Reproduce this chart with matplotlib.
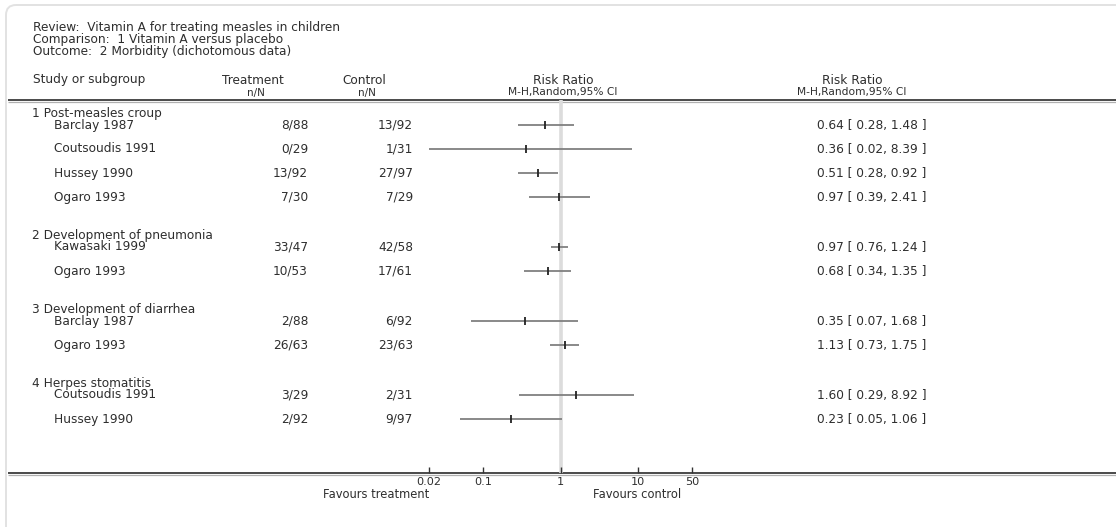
import matplotlib
matplotlib.use("Agg")
import matplotlib.pyplot as plt
from matplotlib.patches import FancyBboxPatch

# ---------------- data ----------------
review_lines = ["Review:  Vitamin A for treating measles in children",
                "Comparison:  1 Vitamin A versus placebo",
                "Outcome:  2 Morbidity (dichotomous data)"]
groups = ["1 Post-measles croup", "2 Development of pneumonia",
          "3 Development of diarrhea", "4 Herpes stomatitis"]
studies = ["Barclay 1987", "Coutsoudis 1991", "Hussey 1990", "Ogaro 1993",
           "Kawasaki 1999", "Ogaro 1993",
           "Barclay 1987", "Ogaro 1993",
           "Coutsoudis 1991", "Hussey 1990"]
group_of = [0, 0, 0, 0, 1, 1, 2, 2, 3, 3]
treatment = ["8/88", "0/29", "13/92", "7/30", "33/47", "10/53", "2/88", "26/63", "3/29", "2/92"]
control = ["13/92", "1/31", "27/97", "7/29", "42/58", "17/61", "6/92", "23/63", "2/31", "9/97"]
rr = [0.64, 0.36, 0.51, 0.97, 0.97, 0.68, 0.35, 1.13, 1.60, 0.23]
ci_lo = [0.28, 0.02, 0.28, 0.39, 0.76, 0.34, 0.07, 0.73, 0.29, 0.05]
ci_hi = [1.48, 8.39, 0.92, 2.41, 1.24, 1.35, 1.68, 1.75, 8.92, 1.06]
xticks = [0.02, 0.1, 1, 10, 50]
xtick_labels = ["0.02", "0.1", "1", "10", "50"]

# ---------------- layout (pixels) ----------------
W, H = 1116, 527
FS = 8.7
TXT = "#2e2e2e"
plt.rcParams['font.family'] = ['DejaVu Sans']

fig = plt.figure(figsize=(W / 100, H / 100), dpi=100)
fig.patch.set_facecolor("white")
ov = fig.add_axes([0, 0, 1, 1])
ov.set_xlim(0, W)
ov.set_ylim(H, 0)
ov.axis("off")

# frame
frame = FancyBboxPatch((6, 5), W + 40, H + 40, boxstyle="round,pad=0,rounding_size=10",
                       facecolor="none", edgecolor="#e2e2e2", linewidth=1.4)
ov.add_patch(frame)

# header text
for i, t in enumerate(review_lines):
    ov.text(33, 27 + i * 12.5, t, fontsize=FS, color=TXT, va="center", ha="left")

ov.text(33, 80, "Study or subgroup", fontsize=FS, color=TXT, va="center", ha="left")
ov.text(253, 80, "Treatment", fontsize=FS, color=TXT, va="center", ha="center")
ov.text(256, 93, "n/N", fontsize=FS - 1.2, color=TXT, va="center", ha="center")
ov.text(364, 80, "Control", fontsize=FS, color=TXT, va="center", ha="center")
ov.text(367, 93, "n/N", fontsize=FS - 1.2, color=TXT, va="center", ha="center")
ov.text(563, 80, "Risk Ratio", fontsize=FS, color=TXT, va="center", ha="center")
ov.text(563, 92, "M-H,Random,95% CI", fontsize=FS - 1.0, color=TXT, va="center", ha="center")
ov.text(852, 80, "Risk Ratio", fontsize=FS, color=TXT, va="center", ha="center")
ov.text(852, 92, "M-H,Random,95% CI", fontsize=FS - 1.0, color=TXT, va="center", ha="center")

# header & bottom rule (double lines)
for yy in (100, 473):
    ov.plot([8, W], [yy, yy], color="#4a4a4a", lw=1.4, solid_capstyle="butt")
    ov.plot([8, W], [yy + 2, yy + 2], color="#b0b0b0", lw=0.9, solid_capstyle="butt")

# row positions
ROW0, PITCH, GGAP = 125, 24, 26
row_y = [ROW0 + PITCH * i + GGAP * g for i, g in enumerate(group_of)]
first_rows = {}
for i, g in enumerate(group_of):
    first_rows.setdefault(g, row_y[i])
for g, label in enumerate(groups):
    ov.text(32, first_rows[g] - 12, label, fontsize=FS, color=TXT, va="center", ha="left")

for i in range(len(studies)):
    y = row_y[i]
    ov.text(54, y, studies[i], fontsize=FS, color=TXT, va="center", ha="left")
    ov.text(308, y, treatment[i], fontsize=FS, color=TXT, va="center", ha="right")
    ov.text(413, y, control[i], fontsize=FS, color=TXT, va="center", ha="right")
    ov.text(872, y, f"{rr[i]:.2f} [ {ci_lo[i]:.2f}, {ci_hi[i]:.2f} ]",
            fontsize=FS, color=TXT, va="center", ha="center")

# ---------------- forest axes ----------------
x0, x1 = 429, 692
ytop, ybot = 100, 473
ax = fig.add_axes([x0 / W, (H - ybot) / H, (x1 - x0) / W, (ybot - ytop) / H])
ax.set_xscale("log")
ax.set_xlim(0.02, 50)
ax.set_ylim(ybot, ytop)
ax.patch.set_alpha(0)
for s in ax.spines.values():
    s.set_visible(False)
ax.axvline(1, color="#dcdcdc", lw=2.6, zorder=0)
ax.hlines(row_y, ci_lo, ci_hi, color="#808080", lw=1.3, zorder=2)
ax.plot(rr, row_y, linestyle="none", marker="|", markersize=5.5, mew=1.3,
        color="#222222", zorder=3)
ax.set_xticks(xticks)
ax.set_xticklabels(xtick_labels)
ax.xaxis.set_minor_locator(matplotlib.ticker.NullLocator())
ax.tick_params(axis="x", direction="in", length=4, width=1, color="#333333",
               labelsize=FS - 0.6, labelcolor=TXT, pad=3)
ax.set_yticks([])

ov.text(429, 495, "Favours treatment", fontsize=FS - 0.4, color=TXT, va="center", ha="right")
ov.text(593, 495, "Favours control", fontsize=FS - 0.4, color=TXT, va="center", ha="left")

fig.savefig("out.png", dpi=100, facecolor="white")
